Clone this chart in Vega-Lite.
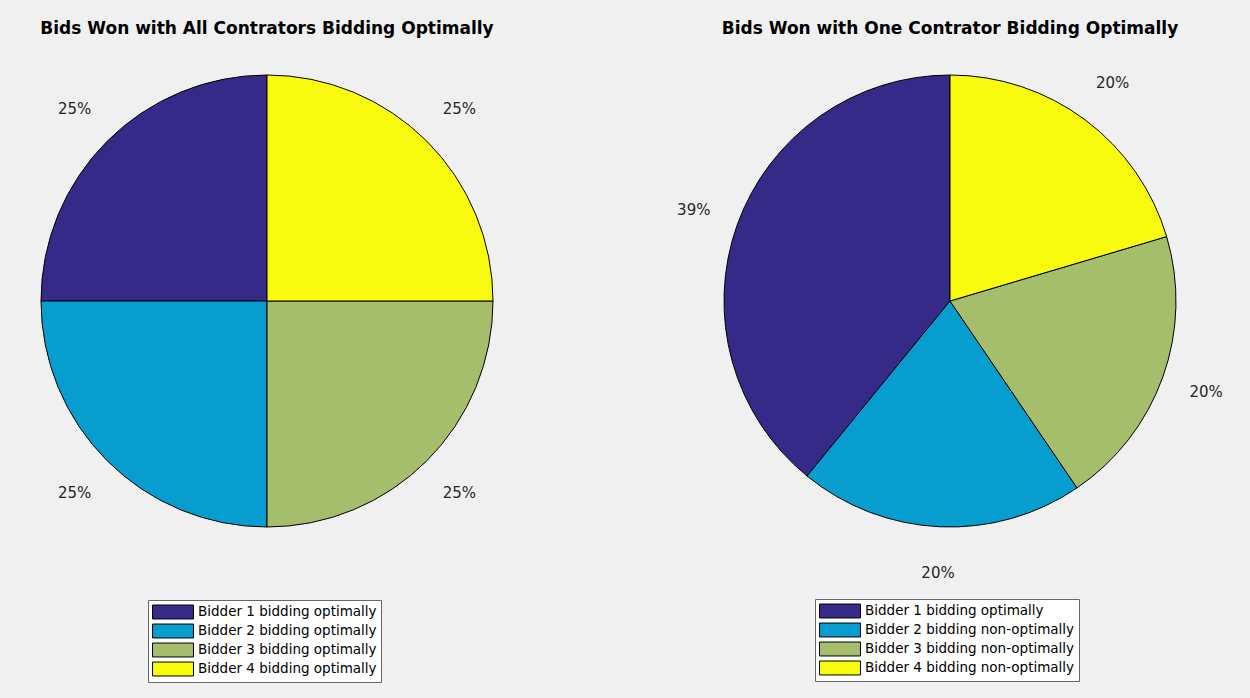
{
  "$schema": "https://vega.github.io/schema/vega-lite/v6.json",
  "background": "#f0f0f0",
  "padding": {"left": 0, "top": 20, "right": 39, "bottom": 15},
  "spacing": 143,
  "config": {
    "view": {"stroke": null},
    "font": "DejaVu Sans",
    "title": {"font": "DejaVu Sans", "fontSize": 17, "fontWeight": "bold", "color": "#000000", "anchor": "middle", "offset": 14, "baseline": "alphabetic"},
    "legend": {
      "orient": "none",
      "title": null,
      "labelFont": "DejaVu Sans",
      "labelFontSize": 13.5,
      "labelColor": "#000000",
      "labelOffset": 17,
      "labelLimit": 400,
      "symbolType": "M-2.73,-0.93L2.73,-0.93L2.73,0.93L-2.73,0.93Z",
      "symbolSize": 225,
      "symbolOffset": 13,
      "symbolStrokeColor": "#000000",
      "symbolStrokeWidth": 1,
      "strokeColor": "#666666",
      "fillColor": "#ffffff",
      "padding": 4,
      "rowPadding": 1,
      "cornerRadius": 0
    }
  },
  "resolve": {"scale": {"fill": "independent", "theta": "independent"}, "legend": {"fill": "independent"}},
  "hconcat": [
    {
      "title": "Bids Won with All Contrators Bidding Optimally",
      "width": 534,
      "height": 498,
      "data": {"values": [
        {"bidder": 1, "label": "Bidder 1 bidding optimally", "share": 0.25},
        {"bidder": 2, "label": "Bidder 2 bidding optimally", "share": 0.25},
        {"bidder": 3, "label": "Bidder 3 bidding optimally", "share": 0.25},
        {"bidder": 4, "label": "Bidder 4 bidding optimally", "share": 0.25}
      ]},
      "encoding": {
        "theta": {"field": "share", "type": "quantitative", "stack": true},
        "order": {"field": "bidder", "type": "quantitative", "sort": "descending"}
      },
      "layer": [
        {
          "mark": {"type": "arc", "radius": 226, "stroke": "#000000", "strokeWidth": 1},
          "encoding": {
            "fill": {
              "field": "label", "type": "nominal",
              "scale": {
                "domain": ["Bidder 1 bidding optimally", "Bidder 2 bidding optimally", "Bidder 3 bidding optimally", "Bidder 4 bidding optimally"],
                "range": ["#352a87", "#079dcf", "#a5be6b", "#f9fb0e"]
              },
              "legend": {"legendX": 148, "legendY": 548}
            }
          }
        },
        {
          "mark": {"type": "text", "radius": 272, "fontSize": 15, "color": "#262626"},
          "encoding": {"text": {"field": "share", "type": "quantitative", "format": ".0%"}}
        }
      ]
    },
    {
      "title": "Bids Won with One Contrator Bidding Optimally",
      "width": 534,
      "height": 498,
      "data": {"values": [
        {"bidder": 1, "label": "Bidder 1 bidding optimally", "share": 0.391},
        {"bidder": 2, "label": "Bidder 2 bidding non-optimally", "share": 0.204},
        {"bidder": 3, "label": "Bidder 3 bidding non-optimally", "share": 0.201},
        {"bidder": 4, "label": "Bidder 4 bidding non-optimally", "share": 0.204}
      ]},
      "encoding": {
        "theta": {"field": "share", "type": "quantitative", "stack": true},
        "order": {"field": "bidder", "type": "quantitative", "sort": "descending"}
      },
      "layer": [
        {
          "mark": {"type": "arc", "radius": 226, "stroke": "#000000", "strokeWidth": 1},
          "encoding": {
            "fill": {
              "field": "label", "type": "nominal",
              "scale": {
                "domain": ["Bidder 1 bidding optimally", "Bidder 2 bidding non-optimally", "Bidder 3 bidding non-optimally", "Bidder 4 bidding non-optimally"],
                "range": ["#352a87", "#079dcf", "#a5be6b", "#f9fb0e"]
              },
              "legend": {"legendX": 132, "legendY": 547}
            }
          }
        },
        {
          "mark": {"type": "text", "radius": 272, "fontSize": 15, "color": "#262626"},
          "encoding": {"text": {"field": "share", "type": "quantitative", "format": ".0%"}}
        }
      ]
    }
  ]
}
